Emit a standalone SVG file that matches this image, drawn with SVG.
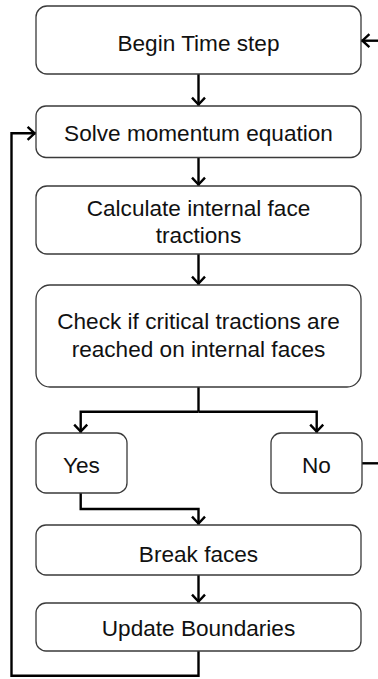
<svg xmlns="http://www.w3.org/2000/svg" width="378" height="679" viewBox="0 0 378 679">
<style>
.box{fill:#ffffff;stroke:#3a3a3a;stroke-width:1.3}
.lbl{font-family:"Liberation Sans",Arial,sans-serif;font-size:22.6px;fill:#111;text-anchor:middle}
.con{fill:none;stroke:#000;stroke-width:2.4;stroke-linejoin:miter}
.arr{fill:none;stroke:#000;stroke-width:2.4;stroke-linejoin:miter}
</style>
<defs>
<marker id="ah" markerUnits="userSpaceOnUse" markerWidth="20" markerHeight="20" viewBox="-10 -10 20 20" refX="1.4" refY="0" orient="auto" overflow="visible">
<path class="arr" d="M-7,-6.5 L0,0 L-7,6.5"/>
</marker>
</defs>
<rect width="378" height="679" fill="#ffffff"/>
<g id="connectors">
<path class="con" d="M198.5,74 V106" marker-end="url(#ah)"/>
<path class="con" d="M198.5,157.5 V186" marker-end="url(#ah)"/>
<path class="con" d="M198.5,254 V285" marker-end="url(#ah)"/>
<path class="con" d="M198.5,387 V411.7"/>
<path class="con" d="M198.5,411.7 H80.7 V433" marker-end="url(#ah)"/>
<path class="con" d="M198.5,411.7 H316.7 V433" marker-end="url(#ah)"/>
<path class="con" d="M80.7,493 V509 H198.5 V525" marker-end="url(#ah)"/>
<path class="con" d="M198.5,575 V603" marker-end="url(#ah)"/>
<path class="con" d="M198.5,651 V675.7 H11.5 V133.3 H36" marker-end="url(#ah)"/>
<path class="con" d="M362,463.3 H378"/>
<path class="con" d="M378,40.7 H361" marker-end="url(#ah)"/>
</g>
<g id="begin">
<rect class="box" x="36" y="6" width="325" height="68" rx="11"/>
<text class="lbl" x="198.5" y="50.7">Begin Time step</text>
</g>
<g id="solve">
<rect class="box" x="36" y="106" width="325" height="51.5" rx="10"/>
<text class="lbl" x="198.5" y="141">Solve momentum equation</text>
</g>
<g id="calc">
<rect class="box" x="36" y="186" width="325" height="68" rx="11"/>
<text class="lbl" x="198.5" y="215.7">Calculate internal face</text>
<text class="lbl" x="198.5" y="243.3">tractions</text>
</g>
<g id="check">
<rect class="box" x="36" y="285" width="325" height="102" rx="14"/>
<text class="lbl" x="198.5" y="329">Check if critical tractions are</text>
<text class="lbl" x="198.5" y="356.7">reached on internal faces</text>
</g>
<g id="yes">
<rect class="box" x="36" y="433" width="91" height="60" rx="10"/>
<text class="lbl" x="81.5" y="472.7">Yes</text>
</g>
<g id="no">
<rect class="box" x="271" y="433" width="91" height="60" rx="10"/>
<text class="lbl" x="316.5" y="472.7">No</text>
</g>
<g id="break">
<rect class="box" x="36" y="525" width="325" height="50" rx="10"/>
<text class="lbl" x="198.5" y="561.7">Break faces</text>
</g>
<g id="update">
<rect class="box" x="36" y="603" width="325" height="48" rx="10"/>
<text class="lbl" x="198.5" y="636">Update Boundaries</text>
</g>
</svg>
